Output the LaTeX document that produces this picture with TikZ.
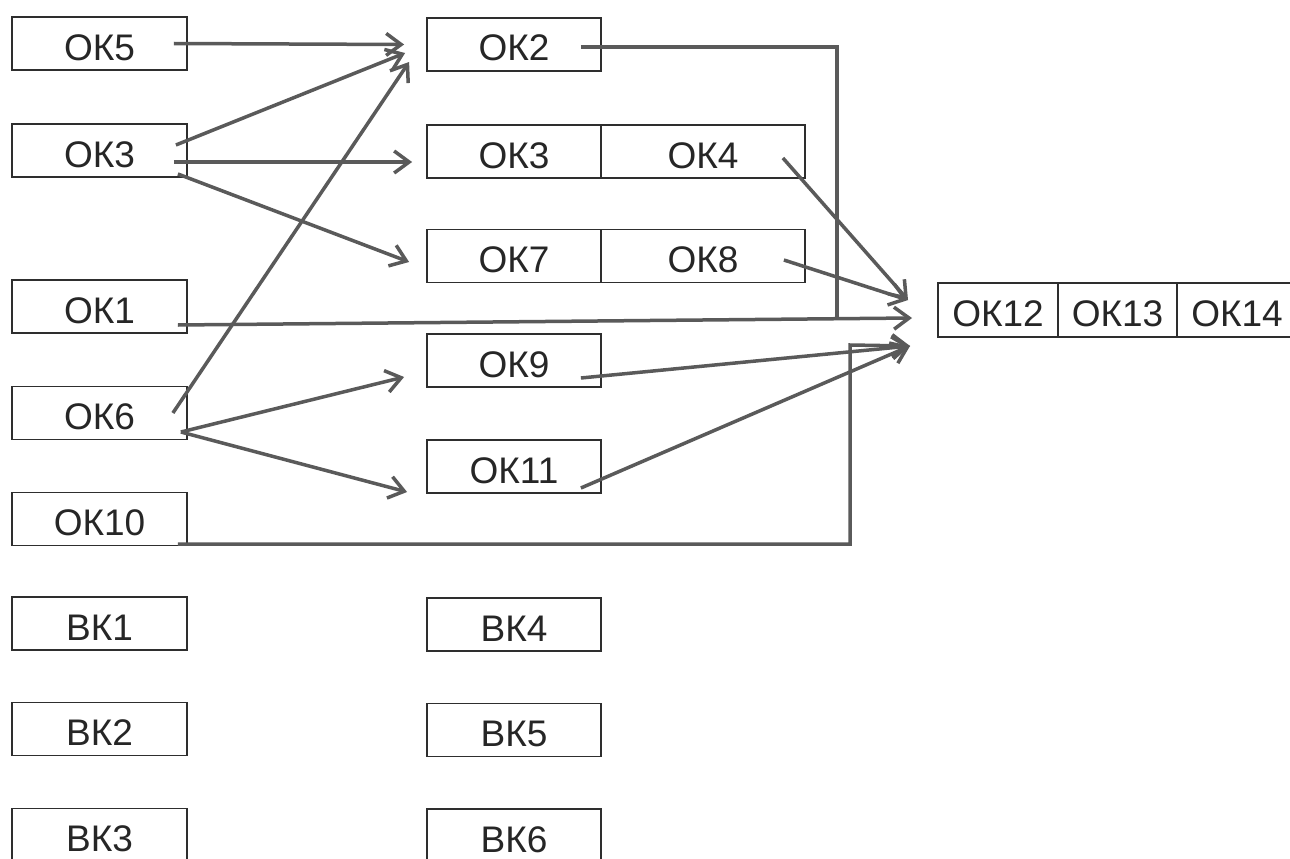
\documentclass[tikz,border=0pt]{standalone}
\usepackage{fontspec}
\setmainfont{Liberation Sans}
\usetikzlibrary{arrows.meta}
\definecolor{boxline}{HTML}{2E2E2E}
\definecolor{arrcol}{HTML}{5A5A5A}
\definecolor{txt}{HTML}{262626}
\begin{document}
\begin{tikzpicture}[x=1pt,y=-1pt,
  box/.style={draw=boxline, line width=1.8pt, fill=white, minimum height=53pt,
    inner sep=0pt, text=txt, font=\fontsize{37}{42}\selectfont,
    text height=33pt, text depth=0pt},
  lbox/.style={box, minimum width=175pt},
  mbox/.style={box, minimum width=174pt},
  wbox/.style={box, minimum width=204pt},
  rbox/.style={box, minimum width=119.5pt, minimum height=54pt},
  arr/.style={draw=arrcol, line width=3.5pt, -{Straight Barb[length=15pt,width=22pt]}},
  conn/.style={draw=arrcol, line width=3.5pt}]
\useasboundingbox[fill=white] (0,0) rectangle (1290,859);
% left column
\node[lbox] (ok5)  at (99.5,43.5)  {ОК5};
\node[lbox] (ok3l) at (99.5,150.5) {ОК3};
\node[lbox] (ok1)  at (99.5,306.5) {ОК1};
\node[lbox] (ok6)  at (99.5,413)   {ОК6};
\node[lbox] (ok10) at (99.5,519)   {ОК10};
\node[lbox] (vk1)  at (99.5,623.5) {ВК1};
\node[lbox] (vk2)  at (99.5,729)   {ВК2};
\node[lbox] (vk3)  at (99.5,835)   {ВК3};
% middle column
\node[mbox] (ok2)  at (514,44.5)   {ОК2};
\node[mbox] (ok3m) at (514,151.5)  {ОК3};
\node[wbox] (ok4)  at (703,151.5)  {ОК4};
\node[mbox] (ok7)  at (514,256)    {ОК7};
\node[wbox] (ok8)  at (703,256)    {ОК8};
\node[mbox] (ok9)  at (514,360.5)  {ОК9};
\node[mbox] (ok11) at (514,466.5)  {ОК11};
\node[mbox] (vk4)  at (514,624.5)  {ВК4};
\node[mbox] (vk5)  at (514,730)    {ВК5};
\node[mbox] (vk6)  at (514,835.5)  {ВК6};
% right box
\node[rbox] (ok12) at (998,310)    {ОК12};
\node[rbox] (ok13) at (1117.5,310) {ОК13};
\node[rbox] (ok14) at (1237,310)   {ОК14};
% convergence points
\coordinate (tipU) at (908,300);
\coordinate (tipM) at (912,318);
\coordinate (tipL) at (910,346);
\coordinate (j2)   at (837,319);
\coordinate (c10)  at (850,345);
% left to middle
\draw[arr] ([xshift=-14pt]ok5.east) -- ([xshift=-22pt]ok2.west);
\draw[arr] ([xshift=-12pt,yshift=5.5pt]ok3l.east) -- ([xshift=-21pt,yshift=-8.5pt]ok2.west);
\draw[arr] ([xshift=-14pt,yshift=-11.5pt]ok3l.east) -- ([xshift=-14pt,yshift=-10.5pt]ok3m.west);
\draw[arr] ([xshift=-10pt,yshift=-23.5pt]ok3l.east) -- ([xshift=-17pt,yshift=-6pt]ok7.west);
\draw[arr] ([xshift=-15pt]ok6.east) -- ([xshift=-17pt,yshift=-17.5pt]ok2.west);
\draw[arr] ([xshift=-7pt,yshift=-19pt]ok6.east) -- ([xshift=-22pt,yshift=-16.5pt]ok9.west);
\draw[arr] ([xshift=-7pt,yshift=-19pt]ok6.east) -- ([xshift=-19pt,yshift=-25.5pt]ok11.west);
% to the right box
\draw[arr] ([xshift=-10pt,yshift=-18.5pt]ok1.east) -- (tipM);
\draw[conn] ([xshift=-21pt,yshift=-2.5pt]ok2.east) -| (j2);
\draw[arr] ([xshift=-23pt,yshift=-6.5pt]ok4.east) -- (tipU);
\draw[arr] ([xshift=-22pt,yshift=-4pt]ok8.east) -- (tipU);
\draw[arr] ([xshift=-21pt,yshift=-17.5pt]ok9.east) -- (tipL);
\draw[arr] ([xshift=-21pt,yshift=-21.5pt]ok11.east) -- (tipL);
\draw[arr] ([xshift=-10pt,yshift=-25pt]ok10.east) -| (c10) -- (tipL);
\end{tikzpicture}
\end{document}
